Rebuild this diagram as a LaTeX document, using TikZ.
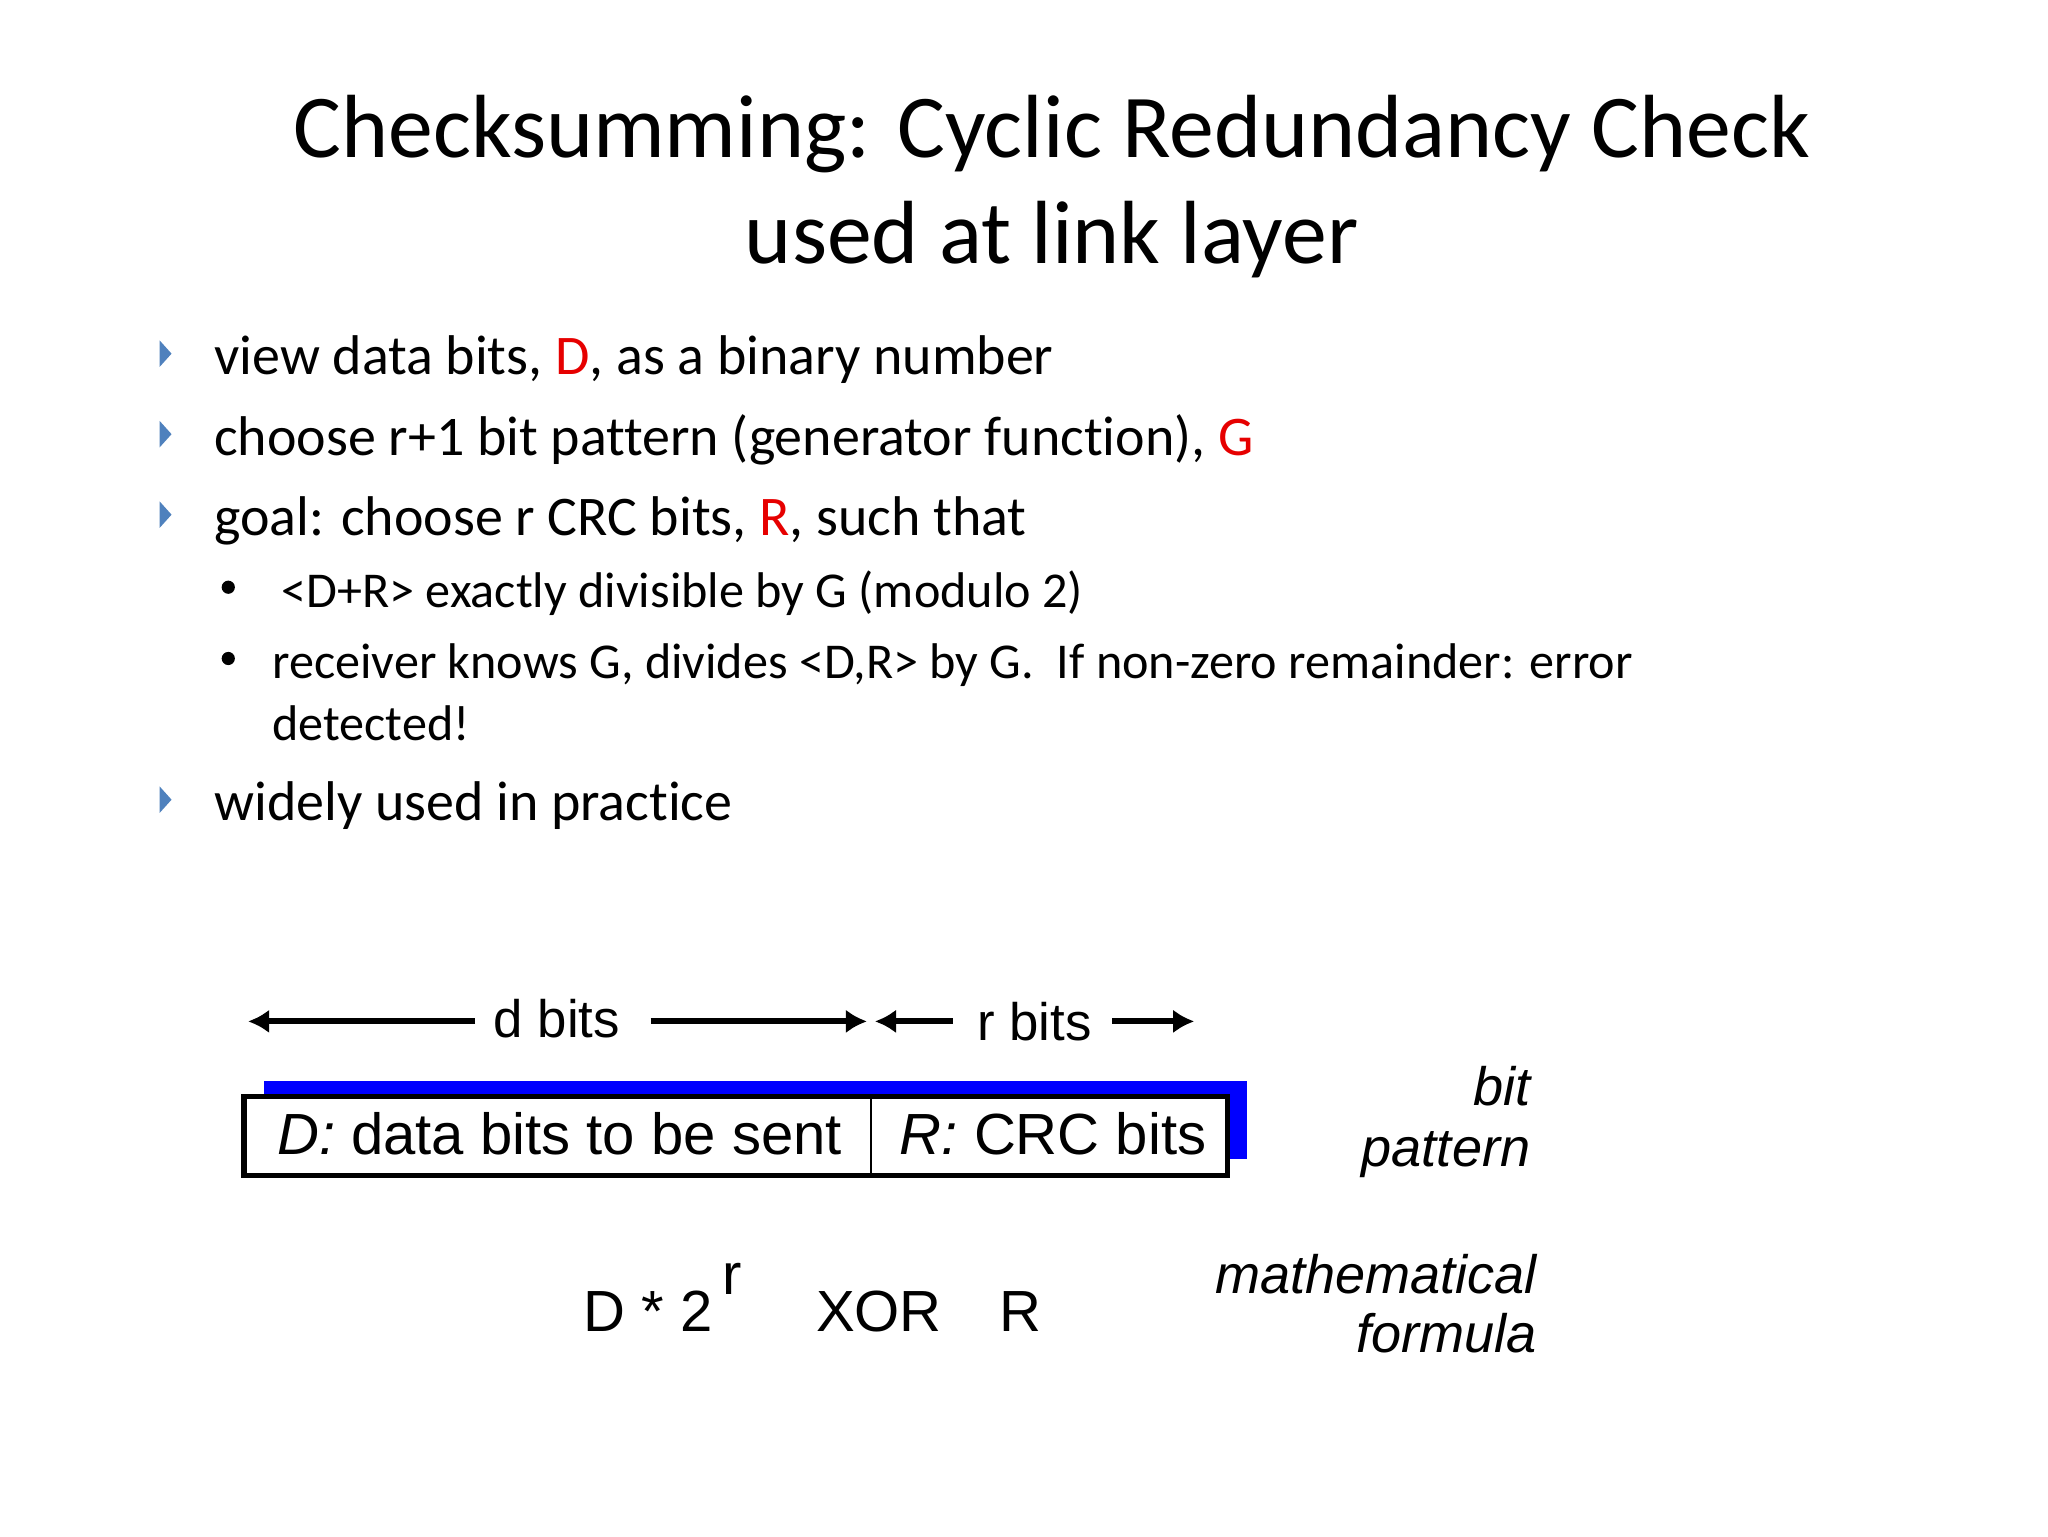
\documentclass[tikz,border=0pt]{standalone}
\usepackage{fontspec}
\setmainfont{Carlito}[Ligatures=NoCommon]
\newfontfamily\arialfont{Liberation Sans}
\usetikzlibrary{positioning,arrows.meta}
\definecolor{bulletblue}{RGB}{79,129,189}
\definecolor{hired}{RGB}{230,0,0}
\tikzset{
  item/.style={anchor=base west,inner sep=0pt,font=\fontsize{21.2}{24}\selectfont},
  subitem/.style={anchor=base west,inner sep=0pt,font=\fontsize{19}{21}\selectfont},
  tri/.style={fill=bulletblue},
  fig/.style={inner sep=0pt,font=\arialfont\fontsize{20}{24}\selectfont},
  side/.style={inner sep=0pt,anchor=base east,font=\arialfont\itshape\fontsize{20.5}{22}\selectfont},
  span/.style={line width=2.2pt,-{Latex[length=8pt,width=9pt]}}
}
\begin{document}
\begin{tikzpicture}[x=0.5pt,y=-0.5pt]
  \useasboundingbox[fill=white] (0,0) rectangle (1552,1164);
  % title
  \node[inner sep=0pt,anchor=base,font=\fontsize{34}{40}\selectfont] (title1) at (797,119) {Checksumming: Cyclic Redundancy Check};
  \node[inner sep=0pt,anchor=base,font=\fontsize{34}{40}\selectfont] (title2) at (797,200) {used at link layer};
  % bullets
  \foreach \yy in {268,329,390,606}
    \fill[tri] (121,\yy-10) -- (130,\yy) -- (121,\yy+10) -- cycle;
  \node[item] (b1) at (162,284) {view data bits, \textcolor{hired}{D}, as a binary number};
  \node[item] (b2) at (162,345) {choose r+1 bit pattern (generator function), \textcolor{hired}{G}};
  \node[item] (b3) at (162,406) {goal: choose r CRC bits, \textcolor{hired}{R}, such that};
  \foreach \yy in {445,499}
    \fill (173,\yy) circle (5);
  \node[subitem] (s1) at (213,460) {<D+R> exactly divisible by G (modulo 2)};
  \node[subitem] (s2) at (206,514) {receiver knows G, divides <D,R> by G.\ \ If non-zero remainder: error};
  \node[subitem] (s3) at (206,561) {detected!};
  \node[item] (b4) at (162,622) {widely used in practice};
  % bit pattern
  \node[fig] (dbits) at (422,772) {d bits};
  \node[fig] (rbits) at (784,774) {r bits};
  \coordinate (dl) at (188,774);
  \coordinate (dr) at (657,774);
  \coordinate (rl) at (663,774);
  \coordinate (rr) at (905,774);
  \draw[span] (360,774) -- (dl);
  \draw[span] (493,774) -- (dr);
  \draw[span] (722,774) -- (rl);
  \draw[span] (843,774) -- (rr);
  \fill[blue] (200,819) rectangle (945,878);
  \draw[line width=2pt,fill=white] (185,831) rectangle (930,891);
  \draw[line width=1pt] (660,831) -- (660,891);
  \node[fig,font=\arialfont\fontsize{22}{24}\selectfont] (dfield) at (424,859) {\textit{D:} data bits to be sent};
  \node[fig,font=\arialfont\fontsize{22}{24}\selectfont] (rfield) at (798,859) {\textit{R:} CRC bits};
  \node[side] (bit) at (1160,838) {bit};
  \node[side] (pattern) at (1160,884) {pattern};
  % formula
  \node[fig,anchor=base west,font=\arialfont\fontsize{22}{24}\selectfont] (formula) at (442,1009) {D * 2\,\raisebox{1.2ex}{r}\quad\ XOR\quad R};
  \node[side] (math) at (1165,980) {mathematical};
  \node[side] (formula2) at (1165,1025) {formula};
\end{tikzpicture}
\end{document}
